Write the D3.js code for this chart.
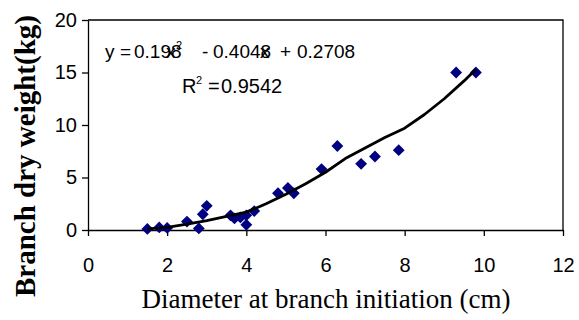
<!doctype html>
<html>
  <head>
    <title>Branch dry weight</title>
    <script src="https://d3js.org/d3.v7.min.js"></script>
    <style>
        body {
            margin: 0;
            padding: 0;
            background: #fff;
        }
        svg {
            display: block;
        }
        .tick text {
            font-family: "Liberation Sans", Arial, sans-serif;
            font-size: 20px;
            fill: #000;
        }
        .eq {
            font-family: "Liberation Sans", Arial, sans-serif;
            font-size: 19px;
        }
        .title {
            font-family: "Liberation Serif", "Times New Roman", serif;
        }
    </style>
  </head>
  <body>
    <div id="chart"></div>
    <script>
        // measured points: diameter (cm) and dry weight (kg)
        var diameter = [1.5, 1.8, 2.0, 2.5, 2.8, 2.9, 3.0, 3.6, 3.7, 3.85, 4.0, 4.0, 4.2,
                        4.8, 5.05, 5.2, 5.9, 6.3, 6.9, 7.25, 7.85, 9.3, 9.8];
        var dryWeight = [0.1, 0.25, 0.2, 0.8, 0.15, 1.5, 2.3, 1.4, 1.1, 1.2, 1.4, 0.5, 1.8,
                         3.5, 4.0, 3.5, 5.8, 8.0, 6.3, 7.0, 7.6, 15.0, 15.0];

        // trend line
        var trendX = [1.5, 2.0, 2.5, 3.0, 3.5, 4.0, 4.5, 5.0, 5.5, 6.0, 6.5, 7.0, 7.5, 8.0, 8.5, 9.0, 9.5, 9.8];
        var trendY = [0.1, 0.25, 0.55, 0.9, 1.3, 1.7, 2.5, 3.4, 4.4, 5.5, 6.8, 7.8, 8.8, 9.7, 11.0, 12.5, 14.2, 15.3];

        var xTicks = [0, 2, 4, 6, 8, 10, 12];
        var yTicks = [0, 5, 10, 15, 20];

        var width = 579;
        var height = 320;

        var svg = d3.select("#chart")
            .append("svg")
            .attr("width", width)
            .attr("height", height);

        var x = d3.scaleLinear()
            .domain([0, 12])
            .range([88, 563]);

        var y = d3.scaleLinear()
            .domain([0, 20])
            .range([230, 20]);

        // plot frame (top and right)
        svg.append("path")
            .attr("d", "M" + x(0) + "," + y(20) + "H" + x(12) + "V" + y(0))
            .attr("fill", "none")
            .attr("stroke", "#000")
            .attr("stroke-width", 1.3);

        svg.append("g")
            .attr("transform", "translate(0," + y(0) + ")")
            .call(d3.axisBottom(x).tickValues(xTicks).tickSize(6).tickSizeOuter(0).tickPadding(22));

        svg.append("g")
            .attr("transform", "translate(" + x(0) + ",0)")
            .call(d3.axisLeft(y).tickValues(yTicks).tickSize(6).tickSizeOuter(0).tickPadding(5));

        svg.selectAll(".domain, .tick line")
            .attr("stroke", "#000")
            .attr("stroke-width", 1.3);

        // diamond markers
        var pts = diameter.map((d, i) => [d, dryWeight[i]]);
        svg.append("g")
            .selectAll("path")
            .data(pts)
            .enter()
            .append("path")
            .attr("transform", (d) => "translate(" + x(d[0]) + "," + y(d[1]) + ") rotate(45)")
            .attr("d", d3.symbol().type(d3.symbolSquare).size(70))
            .attr("fill", "#000080");

        // trend line
        var line = d3.line()
            .x((d) => x(d[0]))
            .y((d) => y(d[1]));

        svg.append("path")
            .datum(trendX.map((d, i) => [d, trendY[i]]))
            .attr("fill", "none")
            .attr("stroke", "#000")
            .attr("stroke-width", 2.8)
            .attr("stroke-linejoin", "round")
            .attr("d", line);

        // equation label, one text per line (pieces squeezed like the original)
        var eq1 = svg.append("text").attr("class", "eq").attr("y", 58);
        eq1.append("tspan").attr("x", 105).text("y");
        eq1.append("tspan").attr("x", 120).text("=");
        eq1.append("tspan").attr("x", 134).text("0.198");
        eq1.append("tspan").attr("x", 166).text("x");
        eq1.append("tspan").attr("x", 176).attr("y", 49).style("font-size", "11px").text("2");
        eq1.append("tspan").attr("x", 202).attr("y", 58).text("-");
        eq1.append("tspan").attr("x", 213).text("0.4048");
        eq1.append("tspan").attr("x", 260).text("x");
        eq1.append("tspan").attr("x", 280).text("+");
        eq1.append("tspan").attr("x", 297).text("0.2708");

        var eq2 = svg.append("text").attr("class", "eq").attr("y", 93).style("font-size", "20px");
        eq2.append("tspan").attr("x", 182).text("R");
        eq2.append("tspan").attr("x", 196).attr("y", 84).style("font-size", "11px").text("2");
        eq2.append("tspan").attr("x", 208).attr("y", 93).text("=");
        eq2.append("tspan").attr("x", 221).text("0.9542");

        // axis titles
        svg.append("text")
            .attr("class", "title")
            .attr("x", 326)
            .attr("y", 308)
            .attr("text-anchor", "middle")
            .style("font-size", "27px")
            .text("Diameter at branch initiation (cm)");

        svg.append("text")
            .attr("class", "title")
            .attr("transform", "translate(35,156) rotate(-90)")
            .attr("text-anchor", "middle")
            .style("font-size", "29px")
            .style("font-weight", "bold")
            .text("Branch dry weight(kg)");
    </script>
  </body>
</html>
